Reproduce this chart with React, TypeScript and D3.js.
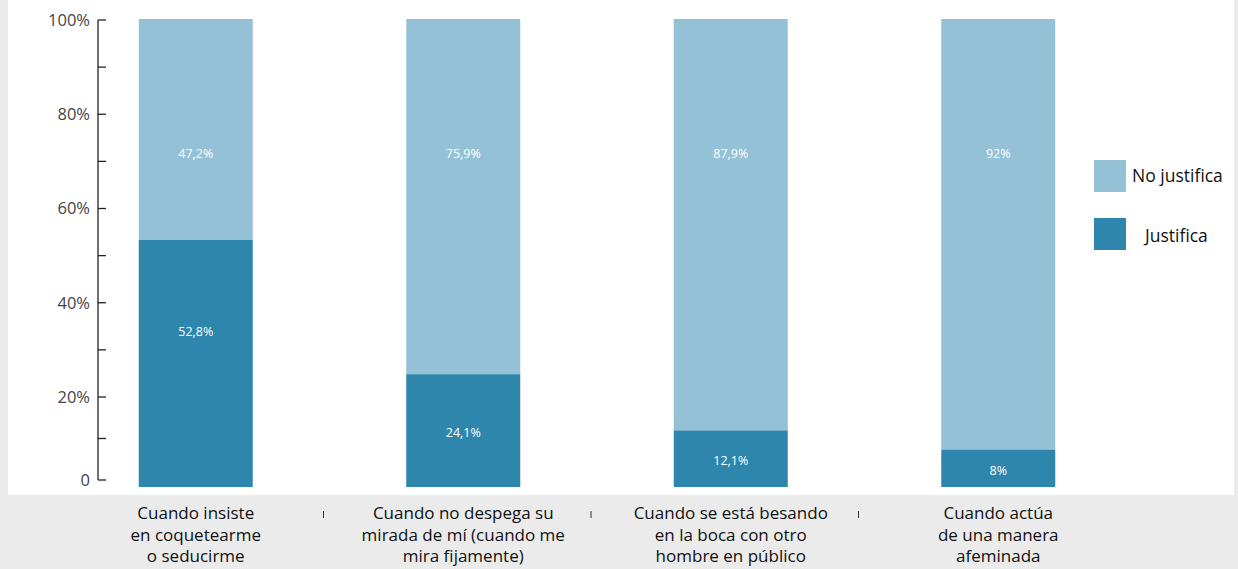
import React from "react";
import * as d3 from "d3";

const categories = [
  "Cuando insiste\nen coquetearme\no seducirme",
  "Cuando no despega su\nmirada de mí (cuando me\nmira fijamente)",
  "Cuando se está besando\nen la boca con otro\nhombre en público",
  "Cuando actúa\nde una manera\nafeminada",
];
const justifica = [52.8, 24.1, 12.1, 8];
const noJustifica = [47.2, 75.9, 87.9, 92];
const justificaLabels = ["52,8%", "24,1%", "12,1%", "8%"];
const noJustificaLabels = ["47,2%", "75,9%", "87,9%", "92%"];
const yTicks = [0, 20, 40, 60, 80, 100];
const yTickLabels = ["0", "20%", "40%", "60%", "80%", "100%"];
const legendItems = ["No justifica", "Justifica"];

const W = 1238;
const H = 569;
const LIGHT = "#95c1d6";
const DARK = "#2e86ad";
const BG = "#ebebeb";
const FONT = "'Open Sans', 'Noto Sans', sans-serif";

export default function App() {
  const x = d3.scaleBand<string>().domain(categories).range([62, 1132]);
  const yBar = d3.scaleLinear().domain([0, 100]).range([487, 19]);
  const yAxis = d3.scaleLinear().domain([0, 20, 100]).range([480, 397, 20]);
  const barW = 114;
  const minorTicks = d3.range(10, 100, 20);

  return (
    <div style={{ position: "absolute", left: 0, top: 0, width: W, height: H }}>
      <svg width={W} height={H} style={{ display: "block" }}>
        <rect x={0} y={0} width={W} height={H} fill={BG} />
        <rect x={8} y={0} width={1226} height={495} fill="#ffffff" />

        {/* axis */}
        <g>
          <line x1={98} x2={98} y1={yAxis(100)} y2={yAxis(0)} stroke="#222" strokeWidth={1.3} />
          {yTicks.map((t, i) => (
            <g key={"t" + t}>
              <line x1={98} x2={106} y1={yAxis(t)} y2={yAxis(t)} stroke="#222" strokeWidth={1.3} />
              <text
                x={90}
                y={yAxis(t)}
                dy="0.35em"
                textAnchor="end"
                fontFamily={FONT}
                fontSize={16.5}
                fill="#444"
              >
                {yTickLabels[i]}
              </text>
            </g>
          ))}
          {minorTicks.map((t) => (
            <line key={"m" + t} x1={98} x2={106} y1={yAxis(t)} y2={yAxis(t)} stroke="#222" strokeWidth={1.3} />
          ))}
        </g>

        {/* bars */}
        {categories.map((c, i) => {
          const bx = (x(c) as number) + (x.bandwidth() - barW) / 2;
          const cx = (x(c) as number) + x.bandwidth() / 2;
          const yJ = yBar(justifica[i]);
          const yTop = yBar(justifica[i] + noJustifica[i]);
          const darkY = justifica[i] > 40 ? yBar(33.3) : (yJ + yBar(0)) / 2 + 2;
          return (
            <g key={c}>
              <rect x={bx} y={yTop} width={barW} height={yJ - yTop} fill={LIGHT} />
              <rect x={bx} y={yJ} width={barW} height={yBar(0) - yJ} fill={DARK} />
              <text x={cx} y={yBar(71.2)} dy="0.35em" textAnchor="middle" fontFamily={FONT} fontSize={12.5} fill="#fff">
                {noJustificaLabels[i]}
              </text>
              <text x={cx} y={darkY} dy="0.35em" textAnchor="middle" fontFamily={FONT} fontSize={12.5} fill="#fff">
                {justificaLabels[i]}
              </text>
            </g>
          );
        })}

        {/* category labels */}
        {categories.map((c) => {
          const cx = (x(c) as number) + x.bandwidth() / 2;
          return (
            <text key={"l" + c} textAnchor="middle" fontFamily={FONT} fontSize={17} fill="#111">
              {c.split("\n").map((line, j) => (
                <tspan key={j} x={cx} y={519 + j * 21.5}>
                  {line}
                </tspan>
              ))}
            </text>
          );
        })}
        {categories.slice(1).map((c) => (
          <line key={"s" + c} x1={(x(c) as number) - 6} x2={(x(c) as number) - 6} y1={511} y2={518} stroke="#333" strokeWidth={1} />
        ))}

        {/* legend */}
        <rect x={1094} y={160} width={32} height={32} fill={LIGHT} />
        <text x={1132} y={176} dy="0.35em" fontFamily={FONT} fontSize={17.5} fill="#111">
          {legendItems[0]}
        </text>
        <rect x={1094} y={218} width={32} height={32} fill={DARK} />
        <text x={1145} y={236} dy="0.35em" fontFamily={FONT} fontSize={17.5} fill="#111">
          {legendItems[1]}
        </text>
      </svg>
    </div>
  );
}
